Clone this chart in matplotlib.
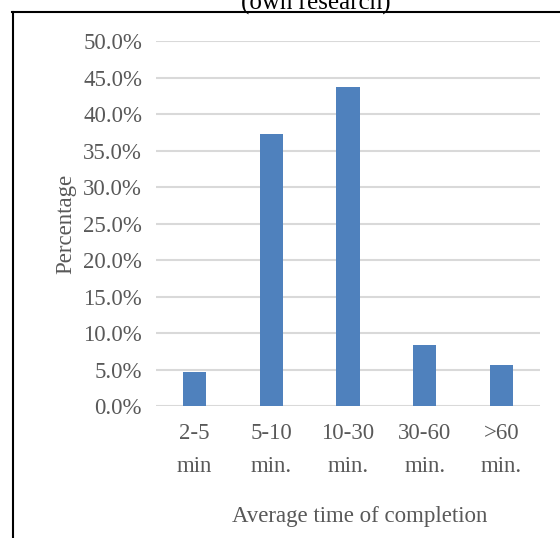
import matplotlib
matplotlib.use("Agg")
import matplotlib.pyplot as plt
from matplotlib.lines import Line2D
from matplotlib.ticker import PercentFormatter

categories = ["2-5\nmin", "5-10\nmin.", "10-30\nmin.", "30-60\nmin.", ">60\nmin."]
percentages = [4.7, 37.3, 43.8, 8.3, 5.6]
y_ticks = [0, 5, 10, 15, 20, 25, 30, 35, 40, 45, 50]

plt.rcParams['font.family'] = ['Liberation Serif', 'DejaVu Serif']
grey = "#595959"

fig = plt.figure(figsize=(5.6, 5.38), dpi=100)
ax = fig.add_axes([156/560, 1 - 406/538, 384/560, (406 - 41.5)/538])

x = range(len(categories))
ax.bar(x, percentages, width=0.3, color="#4f81bd", zorder=3)
ax.set_xlim(-0.5, len(categories) - 0.5)
ax.set_ylim(0, 50)
ax.set_yticks(y_ticks)
ax.yaxis.set_major_formatter(PercentFormatter(decimals=1))
ax.set_xticks(list(x))
ax.set_xticklabels(categories, linespacing=1.75)
ax.grid(axis="y", color="#d9d9d9", linewidth=1.5, zorder=0)
for s in ax.spines.values():
    s.set_visible(False)
ax.tick_params(length=0, labelsize=16.5, colors=grey, pad=10)
ax.tick_params(axis="x", pad=12)
ax.set_ylabel("Percentage", fontsize=16.5, color=grey)
ax.yaxis.set_label_coords(-(156 - 76)/384, 0.5)
ax.set_xlabel("Average time of completion", fontsize=16.5, color=grey)
ax.xaxis.set_label_coords((360 - 156)/384, -(506 - 406)/364.5)

# title, cut off by the top edge
fig.text(316/560, 1 - 3/538, "(own research)", ha="center", va="center", fontsize=18, color="black")

# frame lines (top and left)
fig.add_artist(Line2D([12/560, 1], [1 - 12/538, 1 - 12/538], color="black", linewidth=1.5))
fig.add_artist(Line2D([13/560, 13/560], [0, 1 - 12/538], color="black", linewidth=1.5))

fig.savefig("out.png", dpi=100)
